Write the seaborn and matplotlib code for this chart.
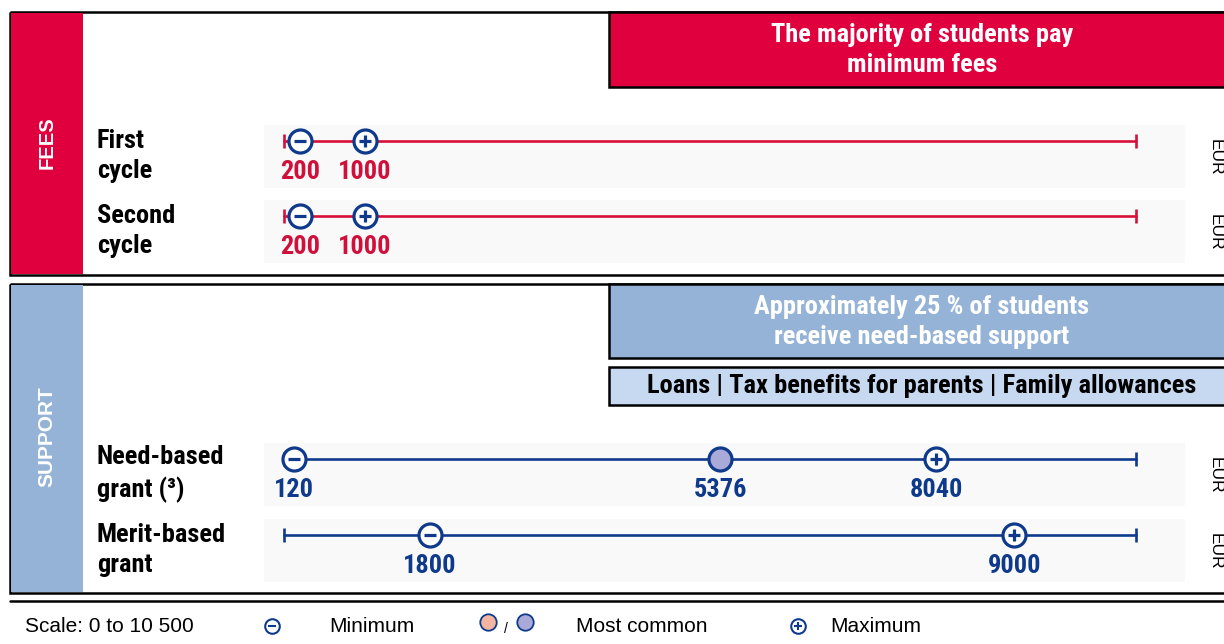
import numpy as np
import pandas as pd
import matplotlib.pyplot as plt
import matplotlib.font_manager as fm
import seaborn as sns
from matplotlib.patches import Rectangle

# chart values
row_labels = ["First\ncycle", "Second\ncycle", "Need-based\ngrant (³)", "Merit-based\ngrant"]
row_group = ["fees", "fees", "support", "support"]
min_values = [200, 200, 120, 1800]
common_values = [np.nan, np.nan, 5376, np.nan]
max_values = [1000, 1000, 8040, 9000]
scale_range = [0, 10500]
unit = "EUR"
fees_note = "The majority of students pay\nminimum fees"
support_note = "Approximately 25 % of students\nreceive need-based support"
support_other = "Loans | Tax benefits for parents | Family allowances"

# layout (pixels)
W, H = 1224, 644
line_y = [141, 216, 459, 535]

red = "#e1003e"
red_line = "#d7103a"
navy = "#0f3a8c"
blue_band = "#95b3d7"
light_blue = "#c6d9f1"
lavender = "#aaaad8"
salmon = "#f4b4a2"
colors = {"fees": red_line, "support": navy}

sns.set_style("white")
plt.rcParams["font.family"] = ["Liberation Sans", "DejaVu Sans"]
plt.rcParams["text.color"] = "black"

# pick a condensed bold face if one is around
bold_faces = {f.name for f in fm.fontManager.ttflist
              if isinstance(f.weight, int) and f.weight >= 700 and f.style == "normal"}
narrow = ["Liberation Sans"]
for cand in ["Liberation Sans Narrow", "Arial Narrow", "Roboto Condensed",
             "PT Sans Narrow", "Asap Condensed", "Barlow Semi Condensed"]:
    if cand in bold_faces:
        narrow = [cand, "Liberation Sans"]
        break

fig = plt.figure(figsize=(W / 100, H / 100), dpi=100)
bg = fig.add_axes([0, 0, 1, 1])
bg.set_xlim(0, W)
bg.set_ylim(H, 0)
bg.axis("off")

# panels
bg.add_patch(Rectangle((10, 12), 1240, 263, fill=False, ec="black", lw=1.8))
bg.add_patch(Rectangle((11, 13), 72, 261, fc=red, ec="none"))
bg.add_patch(Rectangle((609, 12), 640, 75, fc=red, ec="black", lw=1.8))
bg.add_patch(Rectangle((10, 284), 1240, 309, fill=False, ec="black", lw=1.8))
bg.add_patch(Rectangle((11, 285), 72, 307, fc=blue_band, ec="none"))
bg.add_patch(Rectangle((609, 284), 640, 74, fc=blue_band, ec="black", lw=1.8))
bg.add_patch(Rectangle((609, 367), 640, 38, fc=light_blue, ec="black", lw=1.8))
bg.plot([10, W], [601, 601], color="black", lw=1.8)
for y in line_y:
    bg.add_patch(Rectangle((264, y - 16), 921, 63, fc="#f9f9f9", ec="none"))

bg.text(47, 143, "FEES", rotation=90, color="white", fontsize=14.5,
        fontweight="bold", ha="center", va="center")
bg.text(47, 437, "SUPPORT", rotation=90, color="white", fontsize=15,
        fontweight="bold", ha="center", va="center")
bg.text(922, 50, fees_note, color="white", fontsize=19, fontweight="bold",
        family=narrow, ha="center", va="center", linespacing=1.32)
bg.text(922, 322, support_note, color="white", fontsize=19, fontweight="bold",
        family=narrow, ha="center", va="center", linespacing=1.32)
bg.text(922, 386, support_other, color="black", fontsize=19, fontweight="bold",
        family=narrow, ha="center", va="center")

for label, y in zip(row_labels, line_y):
    bg.text(97, y + 15, label, fontsize=19, fontweight="bold", family=narrow,
            ha="left", va="center", linespacing=1.35)
    bg.text(1208, y + 16, unit, fontsize=12.5, rotation=270,
            ha="left", va="center")

# legend row
bg.text(25, 626, "Scale: 0 to 10 500", fontsize=15, ha="left", va="center")
bg.scatter([272], [626], s=110, color="white", edgecolor=navy, linewidth=1.5, zorder=3)
bg.scatter([272], [626], s=30, marker="_", color=navy, linewidths=1.5, zorder=4)
bg.text(329, 626, "Minimum", fontsize=15, ha="left", va="center")
bg.scatter([488], [622], s=140, color=salmon, edgecolor=navy, linewidth=1.3, zorder=3)
bg.text(506, 629, "/", fontsize=10, ha="center", va="center")
bg.scatter([525], [622], s=140, color=lavender, edgecolor=navy, linewidth=1.3, zorder=3)
bg.text(576, 626, "Most common", fontsize=15, ha="left", va="center")
bg.scatter([798], [626], s=110, color="white", edgecolor=navy, linewidth=1.5, zorder=3)
bg.scatter([798], [626], s=30, marker="+", color=navy, linewidths=1.5, zorder=4)
bg.text(830, 626, "Maximum", fontsize=15, ha="left", va="center")

# data axes
ax = fig.add_axes([284 / W, 0, 852 / W, 1])
ax.patch.set_alpha(0)

line_df = pd.DataFrame({
    "row": np.repeat(range(len(row_labels)), 2),
    "group": np.repeat(row_group, 2),
    "value": scale_range * len(row_labels),
    "y": np.repeat(line_y, 2),
})
sns.lineplot(data=line_df, x="value", y="y", units="row", estimator=None,
             hue="group", palette=colors, lw=1.9, legend=False, sort=False, ax=ax)
for g, sub in line_df.groupby("group"):
    ax.scatter(sub["value"], sub["y"], marker="|", s=110, color=colors[g],
               linewidths=1.9, zorder=3)

pts = pd.DataFrame({
    "group": row_group * 3,
    "kind": ["min"] * 4 + ["common"] * 4 + ["max"] * 4,
    "value": min_values + common_values + max_values,
    "y": line_y * 3,
}).dropna()

signs = pts[pts["kind"] != "common"]
sns.scatterplot(data=signs, x="value", y="y", s=275, color="white",
                edgecolor=navy, linewidth=2.3, zorder=4, legend=False, ax=ax)
sns.scatterplot(data=pts[pts["kind"] == "common"], x="value", y="y", s=275,
                color=lavender, edgecolor=navy, linewidth=2.3, zorder=4,
                legend=False, ax=ax)
mins = pts[pts["kind"] == "min"]
maxs = pts[pts["kind"] == "max"]
ax.scatter(mins["value"], mins["y"], marker="_", s=80, color=navy, linewidths=2.3, zorder=5)
ax.scatter(maxs["value"], maxs["y"], marker="+", s=80, color=navy, linewidths=2.3, zorder=5)

for _, p in pts.iterrows():
    ax.text(p["value"], p["y"] + 31, f"{int(p['value'])}",
            color="#d0103a" if p["group"] == "fees" else navy,
            fontsize=19, fontweight="bold", family=narrow,
            ha="center", va="center")

ax.set_xlim(*scale_range)
ax.set_ylim(H, 0)
ax.axis("off")
for c in ax.collections:
    c.set_clip_on(False)
for l in ax.lines:
    l.set_clip_on(False)

fig.savefig("out.png", dpi=100)
